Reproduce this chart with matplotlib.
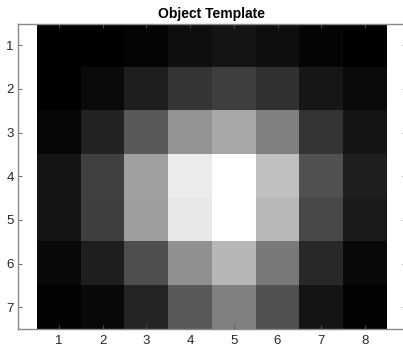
import numpy as np
import matplotlib
matplotlib.use('Agg')
import matplotlib.pyplot as plt

# gray levels of the 7x8 template (0-255)
row1 = [0, 0, 4, 14, 20, 14, 4, 0]
row2 = [0, 10, 30, 52, 62, 48, 22, 10]
row3 = [6, 34, 90, 148, 168, 128, 52, 20]
row4 = [20, 64, 160, 236, 255, 192, 82, 30]
row5 = [20, 62, 158, 232, 255, 184, 72, 26]
row6 = [8, 30, 78, 144, 182, 122, 40, 8]
row7 = [2, 8, 36, 90, 128, 80, 20, 2]
template = np.array([row1, row2, row3, row4, row5, row6, row7])

x_ticks = [1, 2, 3, 4, 5, 6, 7, 8]
y_ticks = [1, 2, 3, 4, 5, 6, 7]

plt.rcParams['font.family'] = ['Liberation Sans', 'DejaVu Sans']

fig = plt.figure(figsize=(4.03, 3.47), dpi=100)
ax = fig.add_axes([18 / 403, 18 / 347, 388 / 403, 305.5 / 347])

ax.imshow(template, cmap='gray', vmin=0, vmax=255, interpolation='nearest',
          extent=[0.5, 8.5, 7.5, 0.5], aspect='equal')
ax.set_adjustable('datalim')
ax.set_xlim(0.06, 8.94)
ax.set_ylim(7.5, 0.5)

ax.set_xticks(x_ticks)
ax.set_yticks(y_ticks)
ax.tick_params(direction='in', length=3, width=0.6, color='#555555',
               labelcolor='#262626', labelsize=9.5, top=True, right=True)
ax.tick_params(axis='x', pad=4)
ax.tick_params(axis='y', pad=3)
for s in ax.spines.values():
    s.set_color('#8a8a8a')
    s.set_linewidth(1.0)

ax.set_title('Object Template', fontsize=10, fontweight='bold', pad=4)

fig.savefig('out.png', dpi=100)
